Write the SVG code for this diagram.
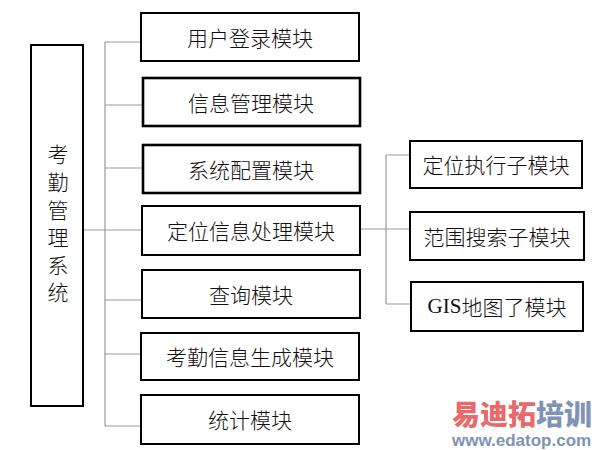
<svg xmlns="http://www.w3.org/2000/svg" width="604" height="450" viewBox="0 0 604 450">
<style>
.box{fill:#fff;stroke:#000;stroke-width:2}
.thick{stroke-width:2.6}
.t{font-family:"Noto Sans CJK SC","Noto Sans",sans-serif;font-size:21px;font-weight:300;fill:#111;text-anchor:middle;dominant-baseline:central}
.v{font-family:"Noto Sans CJK SC","Noto Sans",sans-serif;font-size:21px;font-weight:300;fill:#111;writing-mode:vertical-rl;text-orientation:upright;letter-spacing:6.6px}
.lat{font-family:"Liberation Serif",serif}
.ln{stroke:#999;stroke-width:1.2;fill:none}
.wm1{font-family:"Noto Sans CJK SC",sans-serif;font-weight:900;font-size:28px}
.wm2{font-family:"Liberation Sans",sans-serif;font-weight:bold;font-size:17px;fill:#7f93b6}
</style>
<rect width="604" height="450" fill="#fff"/>
<g id="connectors">
<path class="ln" d="M83,230H105M105,42V426M105,42H141M105,105H143M105,168H143M105,230H142M105,300H142M105,354H141M105,426H141"/>
<path class="ln" d="M360,229H410M386,155V304M386,155H410M386,304H411"/>
</g>
<g id="root">
<rect class="box" x="31" y="45" width="52" height="361"/>
<text class="v" x="58" y="144">考勤管理系统</text>
</g>
<g id="m1"><rect class="box" x="141" y="13" width="218" height="48"/><text class="t" x="250" y="37">用户登录模块</text></g>
<g id="m2"><rect class="box thick" x="143" y="78" width="217" height="48"/><text class="t" x="251" y="102">信息管理模块</text></g>
<g id="m3"><rect class="box thick" x="143" y="145" width="217" height="48"/><text class="t" x="251" y="169">系统配置模块</text></g>
<g id="m4"><rect class="box" x="142" y="206" width="218" height="49"/><text class="t" x="251" y="230">定位信息处理模块</text></g>
<g id="m5"><rect class="box" x="142" y="270" width="218" height="48"/><text class="t" x="251" y="294">查询模块</text></g>
<g id="m6"><rect class="box" x="141" y="333" width="218" height="47"/><text class="t" x="250" y="356">考勤信息生成模块</text></g>
<g id="m7"><rect class="box" x="141" y="395" width="218" height="49"/><text class="t" x="250" y="419">统计模块</text></g>
<g id="s1"><rect class="box" x="410" y="141" width="172" height="47"/><text class="t" x="496" y="164">定位执行子模块</text></g>
<g id="s2"><rect class="box" x="410" y="212" width="174" height="48"/><text class="t" x="497" y="236">范围搜索子模块</text></g>
<g id="s3"><rect class="box" x="411" y="282" width="172" height="49"/><text class="t" x="497" y="306"><tspan class="lat">GIS</tspan>地图了模块</text></g>
<g id="watermark">
<text class="wm1" x="452" y="425"><tspan fill="#e86a6a">易迪拓</tspan><tspan fill="#7f93b6">培训</tspan></text>
<text class="wm2" x="452" y="446">www.edatop.com</text>
</g>
</svg>
